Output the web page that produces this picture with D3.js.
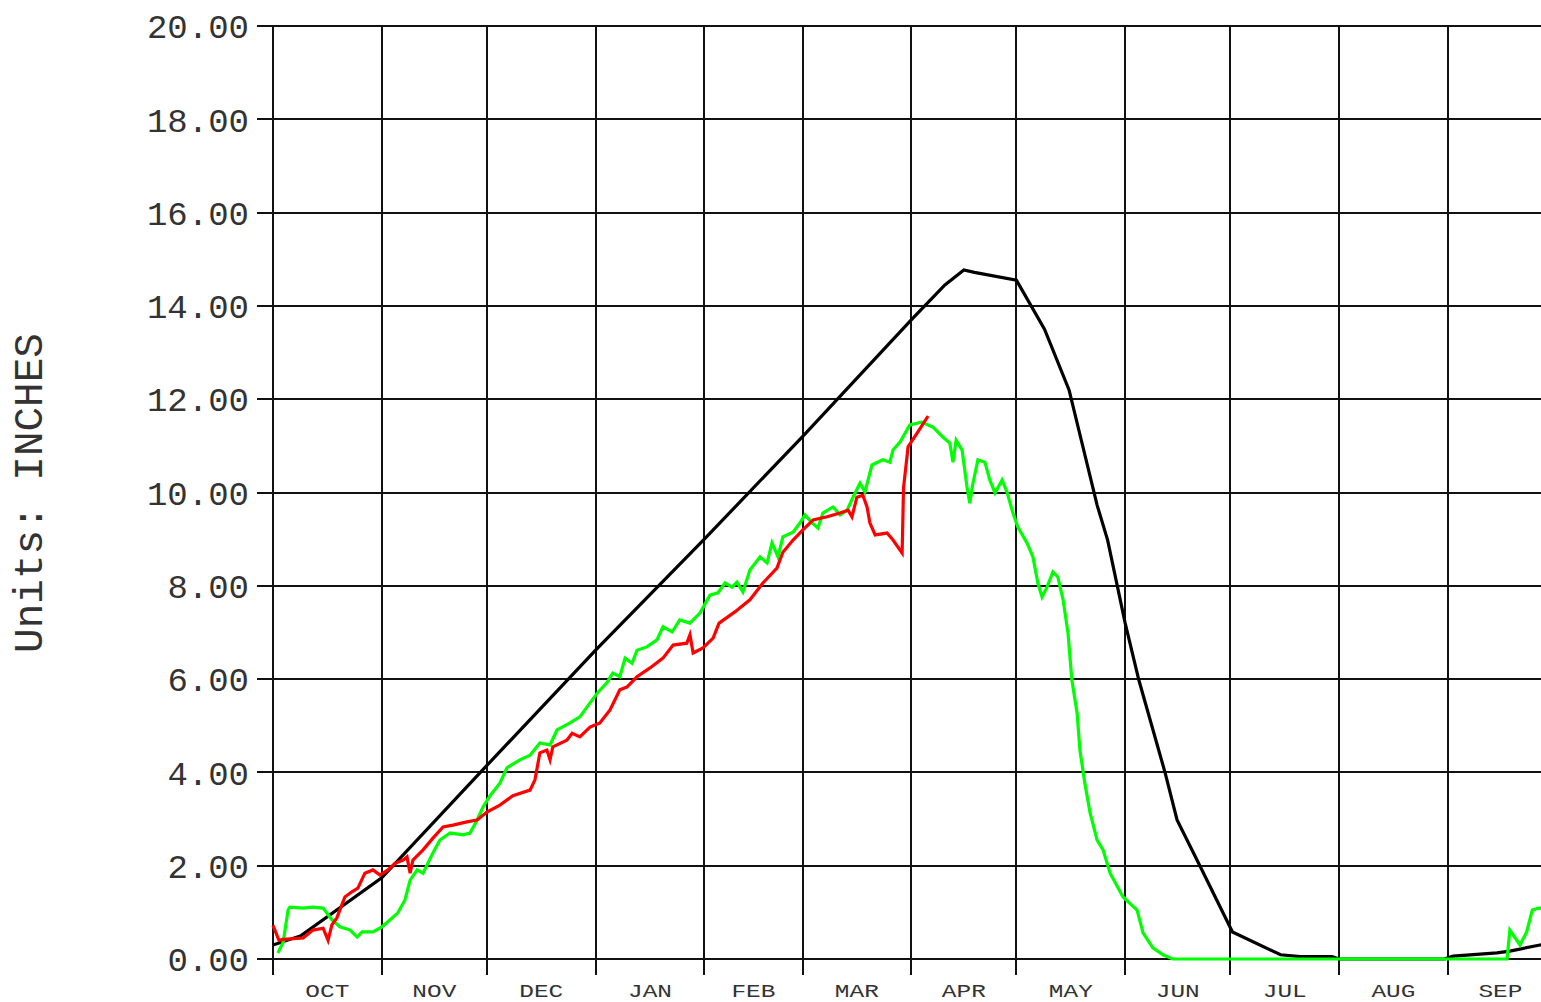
<!DOCTYPE html>
<html>
<head>
<meta charset="utf-8">
<script src="https://cdn.jsdelivr.net/npm/d3@7"></script>
<style>
  body { margin: 0; background: #fff; }
  svg { display: block; }
</style>
</head>
<body>
<div id="chart"></div>
<script>
const width = 1541, height = 1002;

// water year: day 0 = Oct 1
const months = ["OCT", "NOV", "DEC", "JAN", "FEB", "MAR", "APR", "MAY", "JUN", "JUL", "AUG", "SEP"];
const monthStarts = [0, 31, 61, 92, 123, 151, 182, 212, 243, 273, 304, 335, 365];
const yTicks = [0, 2, 4, 6, 8, 10, 12, 14, 16, 18, 20];

// [day, inches]
const normalSeries = [
  [0, 0.3], [8, 0.5], [31, 1.74], [61, 4.15], [92, 6.62], [123, 9.0], [151, 11.2],
  [182, 13.7], [191.6, 14.45], [197, 14.77], [200, 14.72], [212, 14.55], [220, 13.5],
  [227, 12.2], [235, 9.73], [238, 8.98], [243, 7.2], [246.9, 5.98], [254.4, 3.99],
  [257.8, 2.98], [264.3, 2.0], [273.6, 0.58], [287.3, 0.09], [293, 0.05], [302, 0.05],
  [304, 0.0], [334, 0.0], [336.5, 0.06], [343.3, 0.1], [349, 0.13], [352.7, 0.17],
  [361.3, 0.3], [365, 0.33]
];

const currentSeries = [
  [0, 0.72], [1.7, 0.4], [2.9, 0.42], [8.6, 0.45], [11.4, 0.62], [14.3, 0.66], [15.7, 0.4],
  [16.8, 0.73], [18.2, 0.88], [20.5, 1.33], [22.5, 1.44], [24.2, 1.52], [26.2, 1.84],
  [28.5, 1.91], [30.5, 1.8], [32.8, 1.91], [34.8, 2.05], [37.1, 2.12], [38.2, 2.19],
  [39.1, 1.84], [39.9, 2.12], [42.8, 2.34], [45.6, 2.59], [48.5, 2.83], [51.3, 2.87],
  [55.3, 2.94], [58.2, 2.98], [61, 3.15], [64.7, 3.3], [68.4, 3.5], [73.3, 3.62],
  [74.7, 3.84], [76.1, 4.42], [78.1, 4.48], [79, 4.27], [79.8, 4.55], [83.8, 4.69],
  [85.3, 4.84], [87.5, 4.76], [90.4, 4.97], [93.2, 5.06], [96.1, 5.34], [98.9, 5.77],
  [100.9, 5.83], [103.8, 6.05], [107.5, 6.24], [111.2, 6.45], [114.1, 6.73], [118, 6.77],
  [118.9, 6.95], [119.8, 6.56], [122.6, 6.67], [125.5, 6.88], [127.2, 7.2], [131.7, 7.44],
  [136, 7.7], [139.7, 8.06], [143.7, 8.38], [145.4, 8.72], [148.3, 8.98], [151.1, 9.2],
  [154, 9.41], [158, 9.48], [161.7, 9.56], [164, 9.62], [165.1, 9.48], [166.5, 9.9],
  [168.2, 9.94], [169.4, 9.69], [170.2, 9.35], [171.7, 9.09], [175.1, 9.13], [176.8, 8.98],
  [179.4, 8.7], [179.8, 10.1], [181.1, 10.98], [183.9, 11.3], [186.8, 11.64]
];

const lastYearSeries = [
  [1.4, 0.13], [2.9, 0.36], [4.3, 1.05], [4.8, 1.11], [8.6, 1.09], [11.4, 1.11], [14.3, 1.09],
  [16.8, 0.84], [19.1, 0.69], [22, 0.62], [24, 0.47], [25.4, 0.58], [28.5, 0.58], [31.1, 0.69],
  [33.4, 0.84], [35.6, 0.99], [37.6, 1.26], [39.1, 1.69], [41.1, 1.91], [42.8, 1.84],
  [44.2, 2.06], [45.6, 2.27], [47.6, 2.55], [50.5, 2.7], [54.2, 2.66], [56.2, 2.7],
  [58.2, 2.98], [59.9, 3.26], [61.9, 3.5], [64.7, 3.77], [66.7, 4.1], [70.4, 4.27],
  [73.3, 4.37], [76.1, 4.63], [79, 4.59], [81, 4.91], [84.7, 5.06], [87.5, 5.19],
  [90.4, 5.49], [92.7, 5.72], [95.2, 5.92], [96.9, 6.13], [98.9, 6.05], [100.4, 6.45],
  [102.4, 6.34], [103.8, 6.62], [106.6, 6.69], [109.5, 6.84], [111.2, 7.12], [113.8, 7.01],
  [116, 7.27], [118.9, 7.2], [121.8, 7.42], [124.6, 7.8], [126.9, 7.85], [128.9, 8.06],
  [130.9, 7.97], [132.3, 8.08], [134, 7.87], [136, 8.34], [138.9, 8.62], [140.9, 8.49],
  [142.3, 8.92], [144, 8.62], [145.4, 9.05], [148.3, 9.15], [150.3, 9.35], [151.7, 9.52],
  [153.7, 9.35], [155.4, 9.24], [156.8, 9.56], [159.7, 9.69], [161.7, 9.52], [163.7, 9.62],
  [165.4, 9.9], [167.4, 10.2], [168.8, 10.01], [170.8, 10.59], [173.9, 10.7], [175.9, 10.65],
  [176.8, 10.91], [178.8, 11.08], [181.6, 11.45], [185, 11.51], [188.2, 11.4], [191, 11.19],
  [193, 11.06], [193.9, 10.65], [194.8, 11.12], [196.5, 10.91], [197.9, 10.12], [198.7, 9.77],
  [199.6, 10.2], [201, 10.7], [203, 10.65], [204.4, 10.27], [205.9, 9.99], [207.9, 10.27],
  [209.3, 10.01], [211, 9.56], [212.4, 9.26], [215, 8.92], [216.7, 8.62], [218.1, 8.06],
  [219.3, 7.76], [220.7, 7.97], [222.4, 8.3], [223.8, 8.19], [225.3, 7.7], [226.7, 6.99],
  [227.8, 5.98], [229.3, 5.27], [230.1, 4.48], [231.5, 3.77], [233, 3.13], [235, 2.55],
  [236.7, 2.34], [238.7, 1.84], [242.4, 1.33], [246.4, 1.05], [248.1, 0.56], [250.9, 0.24],
  [253.8, 0.09], [256.6, 0.0], [351.9, 0.0], [352.7, 0.62], [355.6, 0.3], [357.5, 0.58],
  [359.1, 1.05], [361, 1.09], [365, 1.1]
];

const svg = d3.select("#chart").append("svg")
  .attr("width", width)
  .attr("height", height);

const x = d3.scaleLinear().domain([0, 365]).range([273, 1553]);
const y = d3.scaleLinear().domain([0, 20]).range([959, 26]);

const grid = svg.append("g")
  .attr("stroke", "#111")
  .attr("stroke-width", 2)
  .attr("shape-rendering", "crispEdges");

// horizontal grid + left ticks
grid.selectAll("line.h").data(yTicks).join("line")
  .attr("class", "h")
  .attr("x1", x(0) - 16).attr("x2", x(365))
  .attr("y1", d => y(d)).attr("y2", d => y(d));

// month boundaries, extending below the axis
grid.selectAll("line.v").data(monthStarts).join("line")
  .attr("class", "v")
  .attr("x1", d => x(d)).attr("x2", d => x(d))
  .attr("y1", y(20)).attr("y2", y(0) + 16);

svg.append("g")
  .selectAll("text").data(yTicks).join("text")
  .attr("x", x(0) - 24)
  .attr("y", d => y(d))
  .attr("dy", "0.36em")
  .attr("text-anchor", "end")
  .attr("font-family", "'Liberation Mono', 'Courier New', monospace")
  .attr("font-size", "34px")
  .attr("fill", "#333")
  .text(d => d.toFixed(2));

svg.append("g")
  .selectAll("text").data(months).join("text")
  .attr("x", (d, i) => (x(monthStarts[i]) + x(monthStarts[i + 1])) / 2 - 22)
  .attr("y", 997)
  .attr("textLength", 44)
  .attr("lengthAdjust", "spacingAndGlyphs")
  .attr("font-family", "'Liberation Mono', 'Courier New', monospace")
  .attr("font-size", "18px")
  .attr("fill", "#333")
  .text(d => d);

svg.append("text")
  .attr("transform", `translate(42, ${493}) rotate(-90)`)
  .attr("text-anchor", "middle")
  .attr("font-family", "'Liberation Mono', 'Courier New', monospace")
  .attr("font-size", "41px")
  .attr("fill", "#333")
  .text("Units: INCHES");

const line = d3.line()
  .x(d => x(d[0]))
  .y(d => y(d[1]));

svg.append("path")
  .datum(normalSeries)
  .attr("fill", "none")
  .attr("stroke", "#000")
  .attr("stroke-width", 3.2)
  .attr("d", line);

svg.append("path")
  .datum(lastYearSeries)
  .attr("fill", "none")
  .attr("stroke", "#00ff00")
  .attr("stroke-width", 3.2)
  .attr("d", line);

svg.append("path")
  .datum(currentSeries)
  .attr("fill", "none")
  .attr("stroke", "#ff0000")
  .attr("stroke-width", 3.2)
  .attr("d", line);
</script>
</body>
</html>
